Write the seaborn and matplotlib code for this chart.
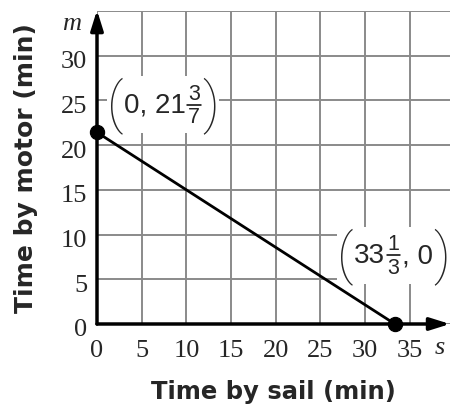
import numpy as np
import pandas as pd
import matplotlib
matplotlib.use("Agg")
import matplotlib.pyplot as plt
import matplotlib.transforms as mtrans
import seaborn as sns
from matplotlib.lines import Line2D
from matplotlib.offsetbox import TextArea, HPacker, VPacker, DrawingArea, AnnotationBbox

# data
sail = [0, 100 / 3]
motor = [150 / 7, 0]
x_ticks = [0, 5, 10, 15, 20, 25, 30, 35]
y_ticks = [0, 5, 10, 15, 20, 25, 30, 35]
y_tick_labels = ["0", "5", "10", "15", "20", "25", "30", ""]
# point labels: whole part, numerator, denominator, rest
label_a = ("0, 21", "3", "7", "")
label_b = ("33", "1", "3", ", 0")
label_a_at = (7.4, 24.5)
label_b_at = (33.2, 7.7)

sns.set_style("white")

df = pd.DataFrame({"s": sail, "m": motor})

fig = plt.figure(figsize=(4.5, 4.06), dpi=100)
ax = fig.add_axes([97 / 450, 81 / 406, 353 / 450, 313 / 406])

sns.lineplot(data=df, x="s", y="m", ax=ax, color="black", lw=2.0, zorder=4)
sns.scatterplot(data=df, x="s", y="m", ax=ax, color="black", s=105, zorder=8,
                edgecolor="black", clip_on=False)

ax.set_xlim(0, 39.5)
ax.set_ylim(0, 35.0)
ax.set_xticks(x_ticks)
ax.set_yticks(y_ticks)
ax.set_yticklabels(y_tick_labels)
ax.grid(True, color="#8a8a8a", lw=1.4)
ax.set_axisbelow(True)
for sp in ax.spines.values():
    sp.set_visible(False)
ax.tick_params(axis="x", length=0, labelsize=19, pad=11)
ax.tick_params(axis="y", length=0, labelsize=19, pad=7)
shift = mtrans.ScaledTranslation(0, -3 / 100, fig.dpi_scale_trans)
for t in ax.get_yticklabels():
    t.set_transform(t.get_transform() + shift)
for t in ax.get_xticklabels() + ax.get_yticklabels():
    t.set_fontfamily("Liberation Serif")

# axes with arrows
arrow = dict(arrowstyle="-|>,head_length=0.8,head_width=0.25", lw=2.5,
             color="black", mutation_scale=15, shrinkA=0, shrinkB=0)
ax.annotate("", xy=(39.5, 0), xytext=(0, 0), annotation_clip=False,
            arrowprops=arrow, zorder=5)
ax.annotate("", xy=(0, 35.1), xytext=(0, 0), annotation_clip=False,
            arrowprops=arrow, zorder=5)

ax.text(-2.9, 33.7, "m", fontsize=19, fontstyle="italic", family="Liberation Serif",
        ha="center", va="center")
ax.text(38.4, -2.6, "s", fontsize=19, fontstyle="italic", family="Liberation Serif",
        ha="center", va="center")


def coord_box(whole, num, den, rest):
    paren = dict(fontsize=40, family="Roboto", fontweight="light")
    main = dict(fontsize=20, family="Liberation Sans")
    small = dict(fontsize=15.5, family="Liberation Sans")
    bar = DrawingArea(11, 2)
    bar.add_artist(Line2D([0.5, 10.5], [1, 1], color="black", lw=1.1))
    frac = VPacker(children=[TextArea(num, textprops=small), bar,
                             TextArea(den, textprops=small)],
                   align="center", pad=0, sep=0)
    kids = [TextArea("(", textprops=paren), TextArea(whole, textprops=main), frac]
    if rest:
        kids.append(TextArea(rest, textprops=main))
    kids.append(TextArea(")", textprops=paren))
    return HPacker(children=kids, align="center", pad=0, sep=0.5)


for lab, at in [(label_a, label_a_at), (label_b, label_b_at)]:
    ab = AnnotationBbox(coord_box(*lab), at, xycoords="data", frameon=True,
                        pad=0.0, box_alignment=(0.5, 0.5), annotation_clip=False,
                        bboxprops=dict(facecolor="white", edgecolor="none"))
    ab.set_zorder(7)
    ax.add_artist(ab)

ax.set_xlabel("Time by sail (min)", fontsize=17.5, fontweight="bold",
              family="DejaVu Sans", va="top")
ax.set_ylabel("Time by motor (min)", fontsize=18, fontweight="bold",
              family="DejaVu Sans")
ax.xaxis.set_label_coords(0.5, -0.176)
ax.yaxis.set_label_coords(-0.166, 0.5)

fig.savefig("out.png", dpi=100)
